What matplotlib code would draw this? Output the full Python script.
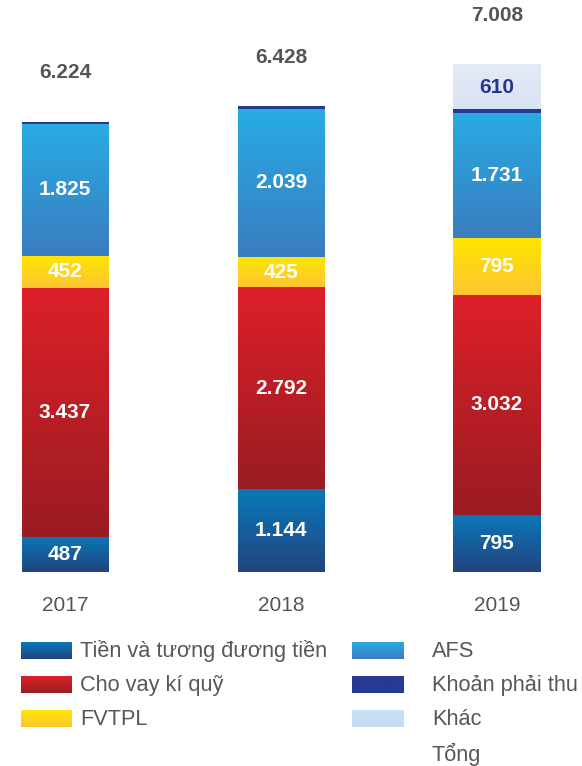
import numpy as np
import matplotlib
matplotlib.use("Agg")
import matplotlib.pyplot as plt
from matplotlib.colors import LinearSegmentedColormap

plt.rcParams['font.family'] = ['Liberation Sans', 'DejaVu Sans']

years = ["2017", "2018", "2019"]
series_names = ["Tiền và tương đương tiền", "Cho vay kí quỹ", "FVTPL", "AFS",
                "Khoản phải thu", "Khác"]
tien = [487, 1144, 795]
cho_vay = [3437, 2792, 3032]
fvtpl = [452, 425, 795]
afs = [1825, 2039, 1731]
phai_thu = [23, 28, 45]
khac = [0, 0, 610]
totals = [6224, 6428, 7008]
total_label = "Tổng"

series = [tien, cho_vay, fvtpl, afs, phai_thu, khac]
# (top colour, bottom colour)
grads = [("#0a78b9", "#22447e"),
         ("#dd2029", "#991c22"),
         ("#ffe600", "#fcc532"),
         ("#28abe3", "#3a7dc0"),
         ("#263a93", "#263a93"),
         ("#e4eaf6", "#d9e3f3")]
legend_grads = list(grads)
legend_grads[5] = ("#cbe1f4", "#c3dcf2")
label_colors = ["white", "white", "white", "white", None, "#25368f"]
show_label = [True, True, True, True, False, True]

W, H = 582, 766
fig = plt.figure(figsize=(W / 100, H / 100), dpi=100)
ax = fig.add_axes([0, (H - 572) / H, 1, 572 / H])
ax.axis('off')
xlim = (-65 / 216, (582 - 65) / 216)
ylim = (0, 572 / 0.0723)
ax.set_xlim(*xlim)
ax.set_ylim(*ylim)

def fmt(v):
    return f"{v:,}".replace(",", ".")

def grad_fill(axis, x0, x1, y0, y1, ctop, cbot, z=2):
    cmap = LinearSegmentedColormap.from_list("g", [ctop, cbot])
    arr = np.linspace(0, 1, 256).reshape(-1, 1)
    axis.imshow(arr, cmap=cmap, extent=(x0, x1, y0, y1), aspect='auto',
                origin='upper', interpolation='bilinear', zorder=z)

x = np.arange(len(years))
bottom = np.zeros(len(years))
bw = 87 / 216
for i, vals in enumerate(series):
    bars = ax.bar(x, vals, bottom=bottom, width=bw, color=grads[i][1],
                  linewidth=0, zorder=1)
    for j, r in enumerate(bars):
        if vals[j] <= 0:
            continue
        x0, y0 = r.get_x(), r.get_y()
        grad_fill(ax, x0, x0 + r.get_width(), y0, y0 + r.get_height(),
                  grads[i][0], grads[i][1])
        if show_label[i]:
            ax.text(x[j], y0 + r.get_height() / 2, fmt(vals[j]),
                    ha='center', va='center', color=label_colors[i],
                    fontsize=15, fontweight='bold', zorder=5)
    bottom += np.array(vals)

for j in range(len(years)):
    ax.text(x[j], bottom[j] + 690, fmt(totals[j]), ha='center', va='center',
            color="#555555", fontsize=15, fontweight='bold', zorder=5)
    ax.text(x[j], -460, years[j], ha='center', va='center', color="#555555",
            fontsize=15, clip_on=False)
ax.set_xlim(*xlim)
ax.set_ylim(*ylim)

# legend
lg = fig.add_axes([0, 0, 1, 1], facecolor='none')
lg.axis('off')
lg.set_xlim(0, W)
lg.set_ylim(H, 0)
entries = [(0, 0), (1, 0), (2, 0), (3, 1), (4, 1), (5, 1)]
rows = [650.5, 684.5, 718.5]
cols = [(21, 72, 80), (352, 404, 432)]
for k, (si, c) in enumerate(entries):
    r = k % 3
    mx0, mx1, tx = cols[c]
    yc = rows[r]
    grad_fill(lg, mx0, mx1, yc + 8.5, yc - 8.5,
              legend_grads[si][0], legend_grads[si][1])
    lg.text(tx, yc + 1, series_names[si], ha='left', va='center',
            color="#575757", fontsize=15.7)
lg.text(cols[1][2], 754, total_label, ha='left', va='center',
        color="#575757", fontsize=15.7)
lg.set_xlim(0, W)
lg.set_ylim(H, 0)

fig.savefig("out.png", dpi=100)
